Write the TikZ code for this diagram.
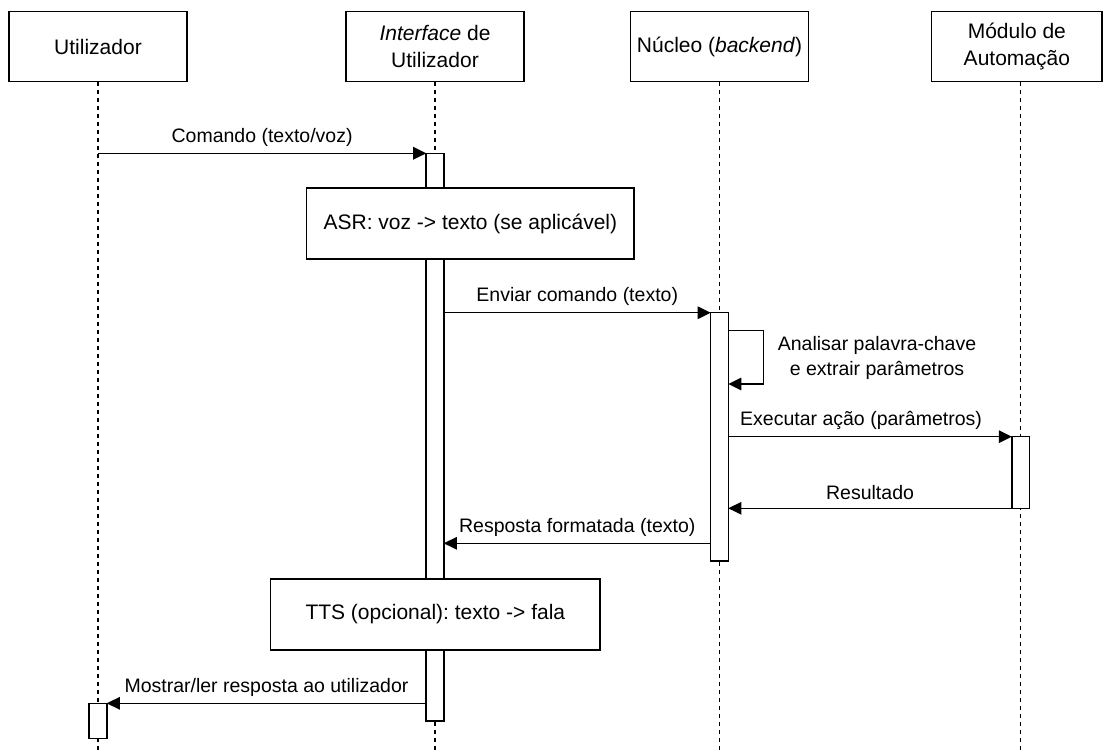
\documentclass[tikz,border=0pt]{standalone}
\usepackage{fontspec}
\setmainfont{Liberation Sans}
\usetikzlibrary{arrows.meta}
\frenchspacing
\begin{document}
\begin{tikzpicture}[x=1pt,y=-1pt,
  every node/.style={inner sep=0pt, outer sep=0pt},
  actor/.style={draw, line width=1.5pt, fill=white, minimum width=178pt,
    minimum height=70pt, align=center, font=\fontsize{21}{26.7}\selectfont},
  life/.style={line width=1.5pt, dash pattern=on 4.5pt off 3.5pt},
  bar/.style={draw, line width=1.5pt, fill=white, minimum width=17.6pt, anchor=north},
  note/.style={draw, line width=1.5pt, fill=white, minimum height=71pt,
    font=\fontsize{21}{26.7}\selectfont},
  msg/.style={line width=1.5pt, -{Triangle[length=13pt,width=12.5pt]}},
  lbl/.style={font=\fontsize{19.5}{25}\selectfont, align=center},
  above line/.style={lbl, yshift=16pt},
]
% canvas
\fill[white] (0,0) rectangle (1103,753);
\useasboundingbox (0,0) rectangle (1103,753);

% participants
\node[actor] (u) at (98,46.7) {Utilizador};
\node[actor] (i) at (435,46.7) {\textit{Interface} de\\Utilizador};
\node[actor] (n) at (719.5,46.7) {Núcleo (\textit{backend})};
\node[actor, minimum width=170.3pt] (m) at (1016.85,46.7) {Módulo de\\Automação};

% lifelines
\coordinate (ul) at (u.south);
\coordinate (il) at (i.south);
\coordinate (nl) at (n.south);
\coordinate (ml) at (1020.6,81.7);
\foreach \c in {ul,il,nl,ml}
  \draw[life] (\c) -- (\c |- 0,753);

% activation bars
\node[bar, minimum height=567.7pt] (ia) at (il |- 0,153.3) {};
\node[bar, minimum height=248.3pt] (na) at (nl |- 0,312.7) {};
\node[bar, minimum height=71.6pt]  (ma) at (ml |- 0,436.7) {};
\node[bar, minimum height=35pt]    (ua) at (ul |- 0,703.3) {};

% processing notes
\node[note, minimum width=327.3pt] (asr) at (470.35,223.65) {ASR: voz -> texto (se aplicável)};
\node[note, minimum width=329.3pt] (tts) at (435.35,614.5) {TTS (opcional): texto -> fala};

% messages
\draw[msg] (ul |- ia.north) -- node[above line] {Comando (texto/voz)} (ia.north west);
\draw[msg] (ia.east |- na.north) -- node[above line] {Enviar comando (texto)} (na.north west);

\coordinate (loopa) at ([yshift=-18pt]na.north east);
\coordinate (loopb) at ([yshift=-71.3pt]na.north east);
\draw[msg] (loopa) -- ++(35,0) |- (loopb);
\node[lbl] (looptext) at (877,357.5) {Analisar palavra-chave\\e extrair parâmetros};

\draw[msg] (na.east |- ma.north) -- node[above line, xshift=-9pt] {Executar ação (parâmetros)} (ma.north west);
\draw[msg] (ma.south west) -- node[above line] {Resultado} (na.east |- ma.south);

\coordinate (resp) at ([yshift=17.7pt]na.south west);
\draw[msg] (resp) -- node[above line] {Resposta formatada (texto)} (ia.east |- resp);

\draw[msg] (ia.west |- ua.north) -- node[above line] {Mostrar/ler resposta ao utilizador} (ua.north east);
\end{tikzpicture}
\end{document}
